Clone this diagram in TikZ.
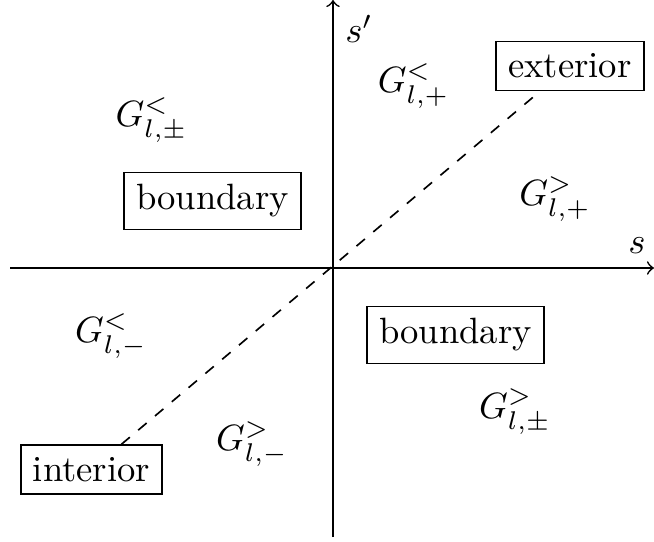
\documentclass[tikz,border=0pt]{standalone}
\begin{document}
\begin{tikzpicture}[x=0.2732pt,y=-0.2732pt,line width=0.45pt,
  region/.style={draw,inner sep=0.333em},
  lab/.style={inner sep=0pt}]
\useasboundingbox (0,0) rectangle (654,541);
\coordinate (xl) at (10,268);
\coordinate (xr) at (654,268);
\coordinate (yb) at (333,537);
\coordinate (yt) at (333,0);
\draw[->] (xl) -- (xr);
\draw[->] (yb) -- (yt);
\node[lab] (s) at (637,246) {$s$};
\node[lab] (sp) at (359,29) {$s'$};
\node[region] (ext) at (570,66) {exterior};
\node[region] (int) at (91.5,469.5) {interior};
\node[region] (b1) at (212.5,201) {boundary};
\node[region] (b2) at (455.5,335) {boundary};
\draw[dashed] (int) -- (ext);
\node[lab] (g1) at (151.5,120) {$G^{<}_{l,\pm}$};
\node[lab] (g2) at (413.5,86) {$G^{<}_{l,+}$};
\node[lab] (g3) at (555,199) {$G^{>}_{l,+}$};
\node[lab] (g4) at (111,336) {$G^{<}_{l,-}$};
\node[lab] (g5) at (252,444) {$G^{>}_{l,-}$};
\node[lab] (g6) at (515,411.5) {$G^{>}_{l,\pm}$};
\end{tikzpicture}
\end{document}
